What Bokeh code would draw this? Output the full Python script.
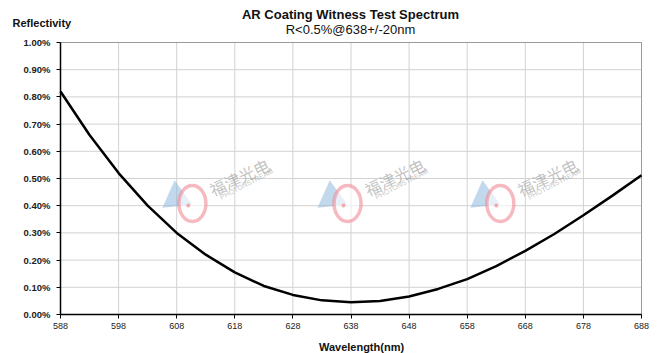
from bokeh.plotting import figure
from bokeh.models import Range1d, FixedTicker, PrintfTickFormatter, ColumnDataSource
from bokeh.transform import dodge
from bokeh.core.properties import value
from bokeh.embed import file_html
from bokeh.resources import INLINE

# ---- data ----
wavelength = [588, 593, 598, 603, 608, 613, 618, 623, 628, 633, 638,
              643, 648, 653, 658, 663, 668, 673, 678, 683, 688]
reflectivity = [0.82, 0.66, 0.52, 0.40, 0.30, 0.22, 0.155, 0.105, 0.072, 0.052, 0.045,
                0.050, 0.066, 0.094, 0.130, 0.178, 0.234, 0.296, 0.365, 0.437, 0.512]
x_ticks = [588, 598, 608, 618, 628, 638, 648, 658, 668, 678, 688]
y_ticks = [0.0, 0.1, 0.2, 0.3, 0.4, 0.5, 0.6, 0.7, 0.8, 0.9, 1.0]
title_text = "AR Coating Witness Test Spectrum"
subtitle_text = "R<0.5%@638+/-20nm"
y_label = "Reflectivity"
x_label = "Wavelength(nm)"
wm_x = [610.7, 637.4, 663.7]
wm_y = [0.408, 0.408, 0.408]
wm_cn = ["福津光电"] * 3
wm_en = ["PHOTONSTREAM"] * 3

FONT = "Liberation Sans"
W, H = 660, 353
X0, X1 = 588, 688          # plotted wavelength span
Y0, Y1 = 0.0, 1.0          # plotted reflectivity span (%)
PL, PR, PT, PB = 60, 641, 42, 314   # plot-area box in pixels

# the frame covers the whole canvas; the axes sit at fixed locations inside it
sx = (PR - PL) / (X1 - X0)
sy = (PB - PT) / (Y1 - Y0)
def px(v): return X0 + (v - PL) / sx
def py(v): return Y0 + (PB - v) / sy

p = figure(width=W, height=H, output_backend="svg", toolbar_location=None,
           x_range=Range1d(px(0), px(W)), y_range=Range1d(py(H), py(0)),
           min_border=0)
p.title = None
p.background_fill_color = "white"
p.border_fill_color = "white"
p.outline_line_color = None
p.grid.visible = False

# grid lines bounded to the plot area (from the tick lists)
p.segment(x0=x_ticks, y0=[Y0] * len(x_ticks), x1=x_ticks, y1=[Y1] * len(x_ticks),
          line_color="#d2d2d2", line_width=1)
p.segment(x0=[X0] * len(y_ticks), y0=y_ticks, x1=[X1] * len(y_ticks), y1=y_ticks,
          line_color="#d2d2d2", line_width=1)
# plot-area right/top border slightly darker
p.segment(x0=[X1], y0=[Y0], x1=[X1], y1=[Y1], line_color="#9a9a9a", line_width=1)
p.segment(x0=[X0], y0=[Y1], x1=[X1], y1=[Y1], line_color="#9a9a9a", line_width=1)

# axes
p.xaxis.ticker = FixedTicker(ticks=x_ticks)
p.yaxis.ticker = FixedTicker(ticks=y_ticks)
p.yaxis.formatter = PrintfTickFormatter(format="%.2f%%")
p.xaxis.fixed_location = Y0
p.yaxis.fixed_location = X0
p.xaxis.bounds = (X0, X1)
p.yaxis.bounds = (Y0, Y1)
for ax in (p.xaxis[0], p.yaxis[0]):
    ax.axis_line_color = "black"
    ax.axis_line_width = 1.5
    ax.major_tick_line_color = "black"
    ax.major_tick_out = 4
    ax.major_tick_in = 0
    ax.minor_tick_line_color = None
    ax.major_label_text_font = FONT
    ax.major_label_text_color = "#222222"
p.xaxis.major_label_text_font_size = "9px"
p.xaxis.major_label_standoff = 4
p.yaxis.major_label_text_font_size = "9.5px"
p.yaxis.major_label_text_font_style = "bold"
p.yaxis.major_label_standoff = 6

# watermark
wm = ColumnDataSource(dict(x=wm_x, y=wm_y, cn=wm_cn, en=wm_en))
p.scatter(dodge("x", -2.75, range=p.x_range), dodge("y", 0.022, range=p.y_range), source=wm,
          marker="triangle", size=30, angle=2.2,
          fill_color="#8fb8dc", line_color=None, alpha=0.55)
p.ellipse("x", "y", source=wm, width=27, height=36, width_units="screen", height_units="screen",
          fill_color="white", fill_alpha=0.6, line_color="#f08a96", line_width=3.5, line_alpha=0.6)
p.scatter(dodge("x", -0.7, range=p.x_range), dodge("y", -0.007, range=p.y_range), source=wm,
          marker="circle", size=4, fill_color="#f08a96", line_color=None, alpha=0.7)
p.text("x", "y", text="cn", source=wm, angle=0.44, x_offset=18, y_offset=-13,
       text_font=value("Noto Sans CJK SC"), text_font_size="16px",
       text_color="#9a9a9a", text_alpha=0.6, text_align="left", text_baseline="alphabetic")
p.text("x", "y", text="en", source=wm, angle=0.48, x_offset=28, y_offset=-6,
       text_font=value(FONT), text_font_size="7px",
       text_color="#9a9a9a", text_alpha=0.6, text_align="left", text_baseline="alphabetic")

# curve
p.line(wavelength, reflectivity, line_color="black", line_width=2.5)

# titles
p.text([px(350)], [py(14)], text=[title_text], text_font=value(FONT), text_font_size="13px",
       text_font_style="bold", text_align="center", text_baseline="middle", text_color="#111111")
p.text([px(350)], [py(29)], text=[subtitle_text], text_font=value(FONT), text_font_size="13px",
       text_align="center", text_baseline="middle", text_color="#111111")
p.text([px(12)], [py(22)], text=[y_label], text_font=value(FONT), text_font_size="11px",
       text_font_style="bold", text_align="left", text_baseline="middle", text_color="#111111")
p.text([px(361)], [py(346)], text=[x_label], text_font=value(FONT), text_font_size="11px",
       text_font_style="bold", text_align="center", text_baseline="middle", text_color="#111111")

open("out.html", "w").write(file_html(p, INLINE))
